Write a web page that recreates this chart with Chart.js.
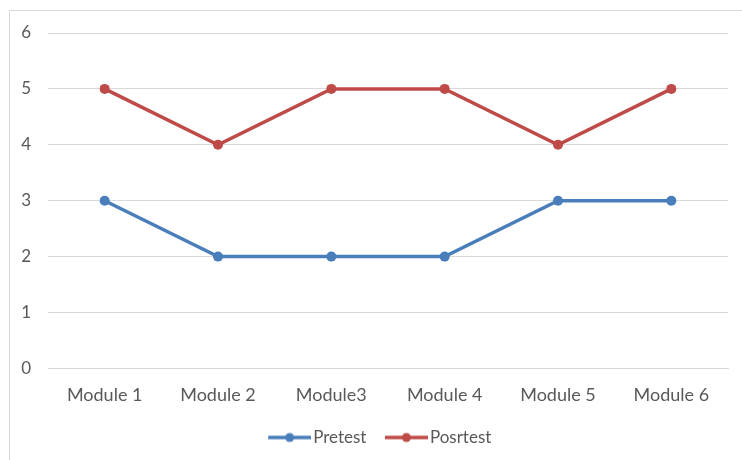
<!DOCTYPE html>
<html>
<head>
<meta charset="utf-8">
<script src="https://cdn.jsdelivr.net/npm/chart.js@4"></script>
<style>
html,body{margin:0;padding:0;background:#fff;}
#wrap{position:relative;width:742px;height:460px;overflow:hidden;}
#frame{position:absolute;left:9px;top:10px;width:760px;height:480px;border:1px solid #d9d9d9;box-sizing:border-box;}
canvas{position:absolute;left:0;top:0;}
</style>
</head>
<body>
<div id="wrap">
<div id="frame"></div>
<canvas id="c" width="742" height="460"></canvas>
</div>
<script>
const categories = ["Module 1", "Module 2", "Module3", "Module 4", "Module 5", "Module 6"];
const pretest = [3, 2, 2, 2, 3, 3];
const posrtest = [5, 4, 5, 5, 4, 5];
const yTicks = [0, 1, 2, 3, 4, 5, 6];

const BLUE = "#4A7EBB";
const RED = "#BE4B48";
const FONT = "Lato, 'Open Sans', sans-serif";

// legend icon: blank left margin + 43px line with dot
const ICON_BLANK = 18;
function legendIcon(color) {
  const cv = document.createElement("canvas");
  cv.width = Math.round(43 + ICON_BLANK); cv.height = 12;
  const g = cv.getContext("2d");
  const x0 = cv.width - 43;
  g.strokeStyle = color; g.lineWidth = 3.5;
  g.beginPath(); g.moveTo(x0, 6); g.lineTo(x0 + 43, 6); g.stroke();
  g.fillStyle = color;
  g.beginPath(); g.arc(x0 + 21.5, 6, 4.5, 0, Math.PI * 2); g.fill();
  return cv;
}
const icons = [legendIcon(BLUE), legendIcon(RED)];

new Chart(document.getElementById("c"), {
  type: "line",
  data: {
    labels: categories,
    datasets: [
      { label: "Pretest", data: pretest, borderColor: BLUE, backgroundColor: BLUE,
        borderWidth: 3.5, pointRadius: 5, pointBackgroundColor: BLUE, pointBorderWidth: 0, tension: 0 },
      { label: "Posrtest", data: posrtest, borderColor: RED, backgroundColor: RED,
        borderWidth: 3.5, pointRadius: 5, pointBackgroundColor: RED, pointBorderWidth: 0, tension: 0 }
    ]
  },
  options: {
    responsive: false,
    animation: false,
    devicePixelRatio: 1,
    layout: { padding: { left: 20, right: 14, top: 33, bottom: 4 } },
    plugins: {
      tooltip: { enabled: false },
      legend: {
        position: "bottom",
        labels: {
          usePointStyle: true,
          pointStyleWidth: 30 + ICON_BLANK,
          boxHeight: 12,
          padding: 7,
          color: "#595959",
          font: { family: FONT, size: 17 },
          generateLabels(chart) {
            return chart.data.datasets.map((ds, i) => ({
              text: ds.label, fillStyle: ds.borderColor, strokeStyle: ds.borderColor,
              lineWidth: 0, pointStyle: icons[i], datasetIndex: i, hidden: false, fontColor: "#595959"
            }));
          }
        }
      }
    },
    scales: {
      x: {
        offset: true,
        grid: { display: false, drawTicks: false },
        border: { display: true, color: "#d9d9d9", width: 1 },
        ticks: { color: "#595959", padding: 16, font: { family: FONT, size: 18 }, maxRotation: 0 }
      },
      y: {
        min: 0, max: 6,
        afterFit(s) { s.width = 28; },
        afterBuildTicks(s) { s.ticks = yTicks.map(v => ({ value: v })); },
        grid: { color: "#d9d9d9", lineWidth: 1, drawTicks: false },
        border: { display: false },
        ticks: { color: "#595959", padding: 17, font: { family: FONT, size: 17 } }
      }
    }
  }
});
</script>
</body>
</html>
